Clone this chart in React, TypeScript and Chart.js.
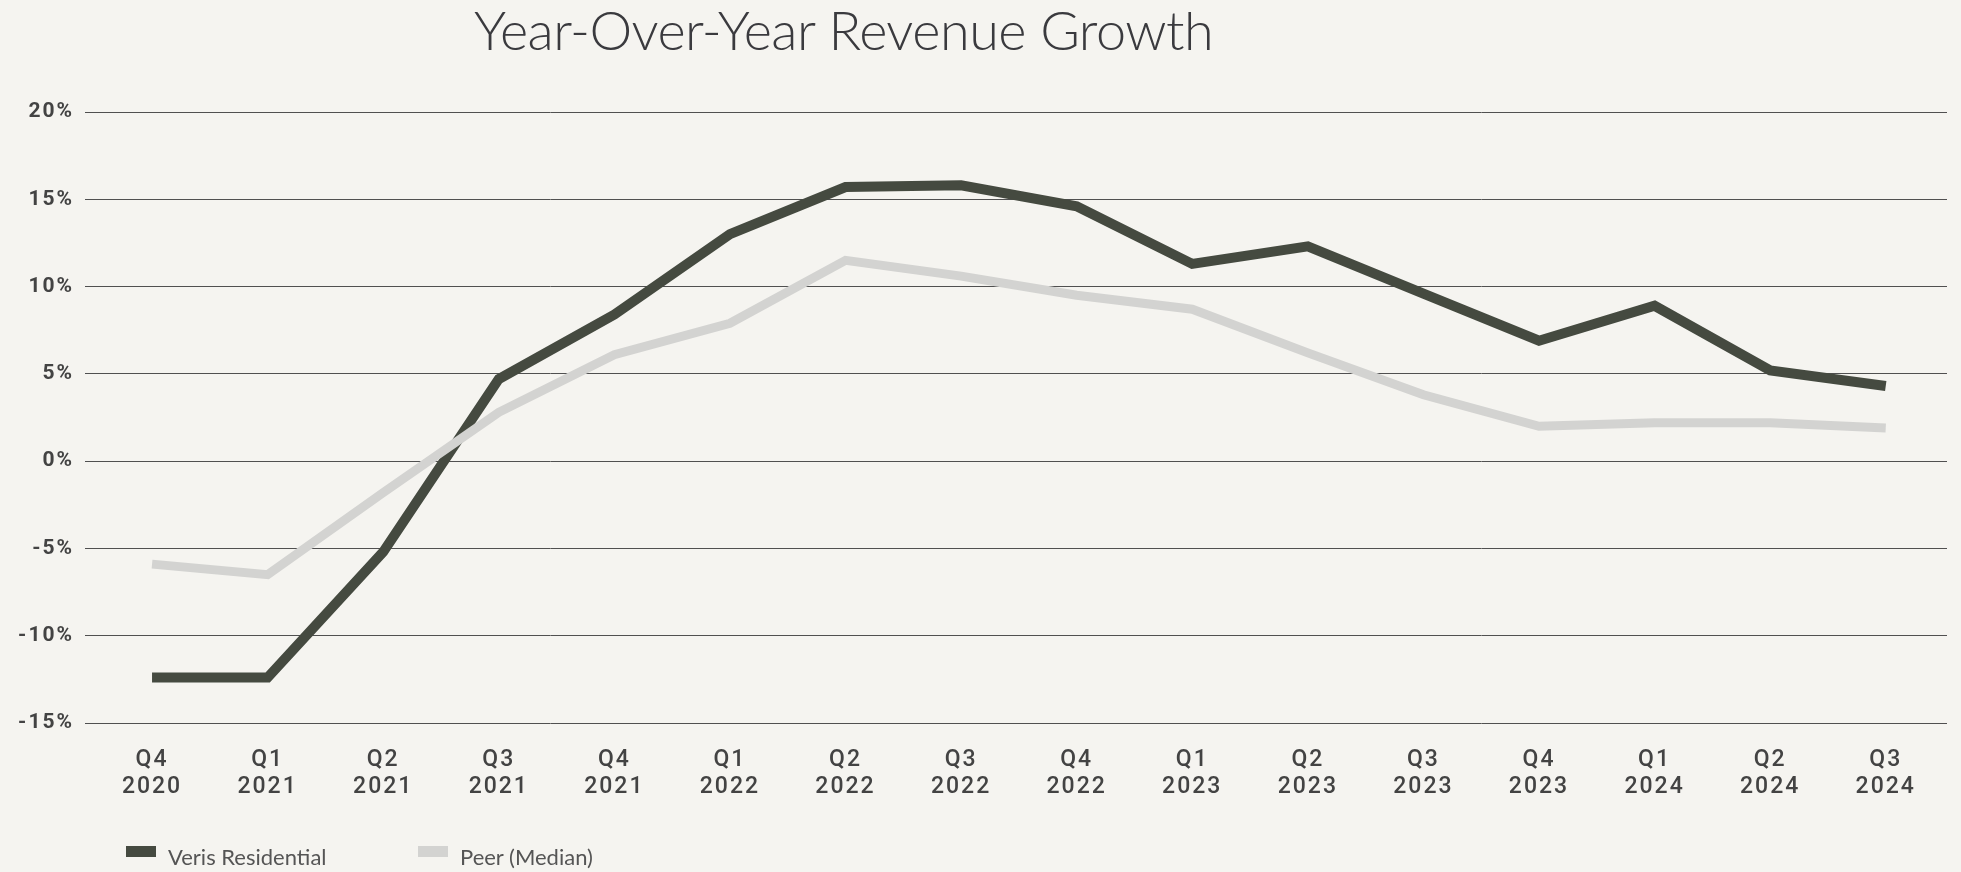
import React, { useEffect, useRef } from 'react';
import { Chart, registerables } from 'chart.js';

Chart.register(...registerables);

const quarters = ['Q4', 'Q1', 'Q2', 'Q3', 'Q4', 'Q1', 'Q2', 'Q3', 'Q4', 'Q1', 'Q2', 'Q3', 'Q4', 'Q1', 'Q2', 'Q3'];
const years = ['2020', '2021', '2021', '2021', '2021', '2022', '2022', '2022', '2022', '2023', '2023', '2023', '2023', '2024', '2024', '2024'];
const verisGrowth = [-12.4, -12.4, -5.2, 4.7, 8.4, 13.0, 15.7, 15.8, 14.6, 11.3, 12.3, 9.6, 6.9, 8.9, 5.2, 4.3];
const peerGrowth = [-5.9, -6.5, -1.8, 2.8, 6.1, 7.9, 11.5, 10.6, 9.5, 8.7, 6.2, 3.8, 2.0, 2.2, 2.2, 1.9];
const yTicks = [-15, -10, -5, 0, 5, 10, 15, 20];
const seriesNames = ['Veris Residential', 'Peer (Median)'];
const seriesColors = ['#454a40', '#d3d3d1'];
const titleText = 'Year-Over-Year Revenue Growth';

const spacingPlugin = {
  id: 'letterSpacing',
  beforeDraw(chart: any) {
    chart.ctx.letterSpacing = '2px';
  },
  afterDraw(chart: any) {
    chart.ctx.letterSpacing = '0px';
  },
};

export default function App() {
  const canvasRef = useRef<HTMLCanvasElement | null>(null);

  useEffect(() => {
    const canvas = canvasRef.current;
    if (!canvas) return;
    const chart = new Chart(canvas, {
      type: 'line',
      data: {
        datasets: [
          {
            label: seriesNames[1],
            data: peerGrowth.map((v, i) => ({ x: i, y: v })),
            borderColor: seriesColors[1],
            backgroundColor: seriesColors[1],
            borderWidth: 9,
            order: 0,
          },
          {
            label: seriesNames[0],
            data: verisGrowth.map((v, i) => ({ x: i, y: v })),
            borderColor: seriesColors[0],
            backgroundColor: seriesColors[0],
            borderWidth: 10,
            order: 1,
          },
        ],
      },
      options: {
        animation: false,
        responsive: true,
        maintainAspectRatio: false,
        layout: { padding: { top: 112, right: 14, bottom: 39, left: 0 } },
        plugins: { legend: { display: false }, tooltip: { enabled: false }, title: { display: false } },
        elements: {
          point: { radius: 0, hoverRadius: 0 },
          line: { tension: 0, borderCapStyle: 'butt', borderJoinStyle: 'miter', fill: false },
        },
        scales: {
          x: {
            type: 'linear',
            min: -0.58,
            max: 15.53,
            grid: { display: false },
            border: { display: false },
            afterBuildTicks: (s: any) => {
              s.ticks = quarters.map((_, i) => ({ value: i }));
            },
            afterFit: (s: any) => {
              s.height = 110;
            },
            ticks: {
              autoSkip: false,
              maxRotation: 0,
              minRotation: 0,
              includeBounds: false,
              padding: 15,
              color: '#434343',
              font: { family: 'Roboto, "DejaVu Sans", sans-serif', size: 23, weight: '500', lineHeight: 1.2 },
              callback: (v: any) => [quarters[Math.round(v)], years[Math.round(v)]],
            },
          },
          y: {
            type: 'linear',
            min: -15,
            max: 20,
            z: 1,
            afterBuildTicks: (s: any) => {
              s.ticks = yTicks.map((v) => ({ value: v }));
            },
            afterFit: (s: any) => {
              s.width = 85;
            },
            grid: { color: '#505050', lineWidth: 1, drawTicks: false },
            border: { display: false },
            ticks: {
              padding: 11,
              color: '#434343',
              font: { family: 'Roboto, "DejaVu Sans", sans-serif', size: 21, weight: 'bold' },
              callback: (v: any) => `${v}%`,
            },
          },
        },
      },
      plugins: [spacingPlugin],
    } as any);
    return () => chart.destroy();
  }, []);

  return (
    <div
      style={{
        position: 'fixed',
        left: 0,
        top: 0,
        width: 1961,
        height: 872,
        background: '#f5f4f0',
        overflow: 'hidden',
      }}
    >
      <canvas ref={canvasRef} style={{ position: 'absolute', left: 0, top: 0, width: 1961, height: 872 }} />
      <div
        style={{
          position: 'absolute',
          left: 474,
          top: -2,
          fontFamily: 'Lato, sans-serif',
          fontWeight: 300,
          fontSize: 54,
          lineHeight: 1.2,
          letterSpacing: '-0.5px',
          color: '#3a3a3e',
          whiteSpace: 'nowrap',
        }}
      >
        {titleText}
      </div>
      {seriesNames.map((name, i) => (
        <div key={name} style={{ position: 'absolute', left: i === 0 ? 126 : 418, top: 844, height: 27, whiteSpace: 'nowrap' }}>
          <span
            style={{
              position: 'absolute',
              left: 0,
              top: 2,
              width: 30,
              height: 11,
              background: seriesColors[i],
            }}
          />
          <span
            style={{
              position: 'absolute',
              left: 42,
              top: 0,
              fontFamily: 'Lato, sans-serif',
              fontSize: 22,
              lineHeight: 1.2,
              color: '#555555',
            }}
          >
            {name}
          </span>
        </div>
      ))}
    </div>
  );
}
